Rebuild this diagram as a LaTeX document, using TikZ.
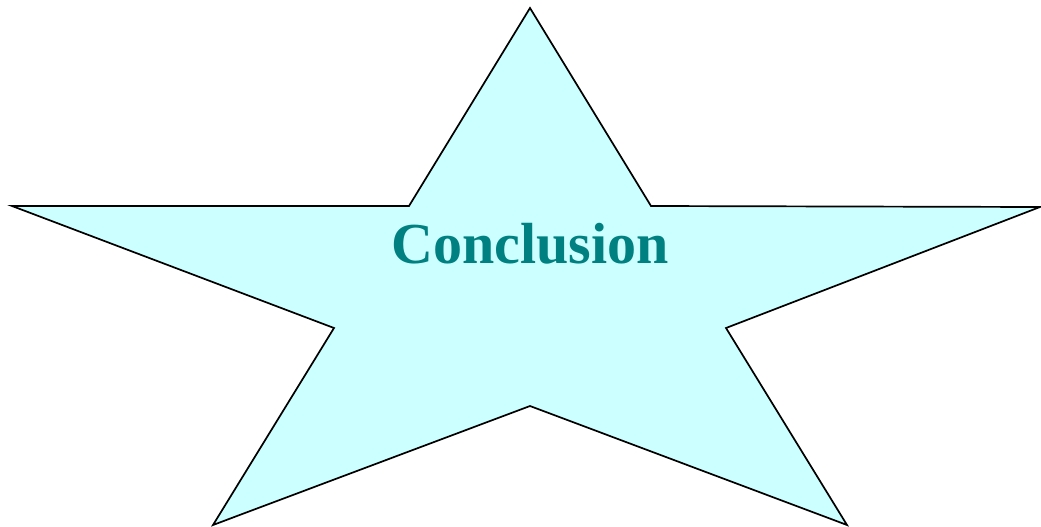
\documentclass[tikz,border=0pt]{standalone}
\usepackage{fontspec}
\setmainfont{Liberation Serif}
\definecolor{starfill}{RGB}{204,255,255}
\definecolor{textteal}{RGB}{0,128,128}
\tikzset{starshape/.style={draw=black,fill=starfill,line width=1.7pt,line join=miter},
  titletext/.style={text=textteal,font=\fontsize{58}{66}\selectfont\bfseries,inner sep=0pt}}
\begin{document}
\begin{tikzpicture}[x=1pt,y=-1pt]
\useasboundingbox (0,0) rectangle (1041,527);
\coordinate (t) at (530,8);
\coordinate (ir) at (651,206);
\coordinate (r) at (1040,207);
\coordinate (lr) at (726,328);
\coordinate (br) at (847,525);
\coordinate (b) at (530,406);
\coordinate (bl) at (213,525);
\coordinate (ll) at (334,328);
\coordinate (l) at (12,206);
\coordinate (il) at (409,206);
\draw[starshape] (t) -- (ir) -- (r) -- (lr) -- (br) -- (b) -- (bl) -- (ll) -- (l) -- (il) -- cycle;
\node[titletext,anchor=base] (title) at (530,263) {Conclusion};
\end{tikzpicture}
\end{document}
